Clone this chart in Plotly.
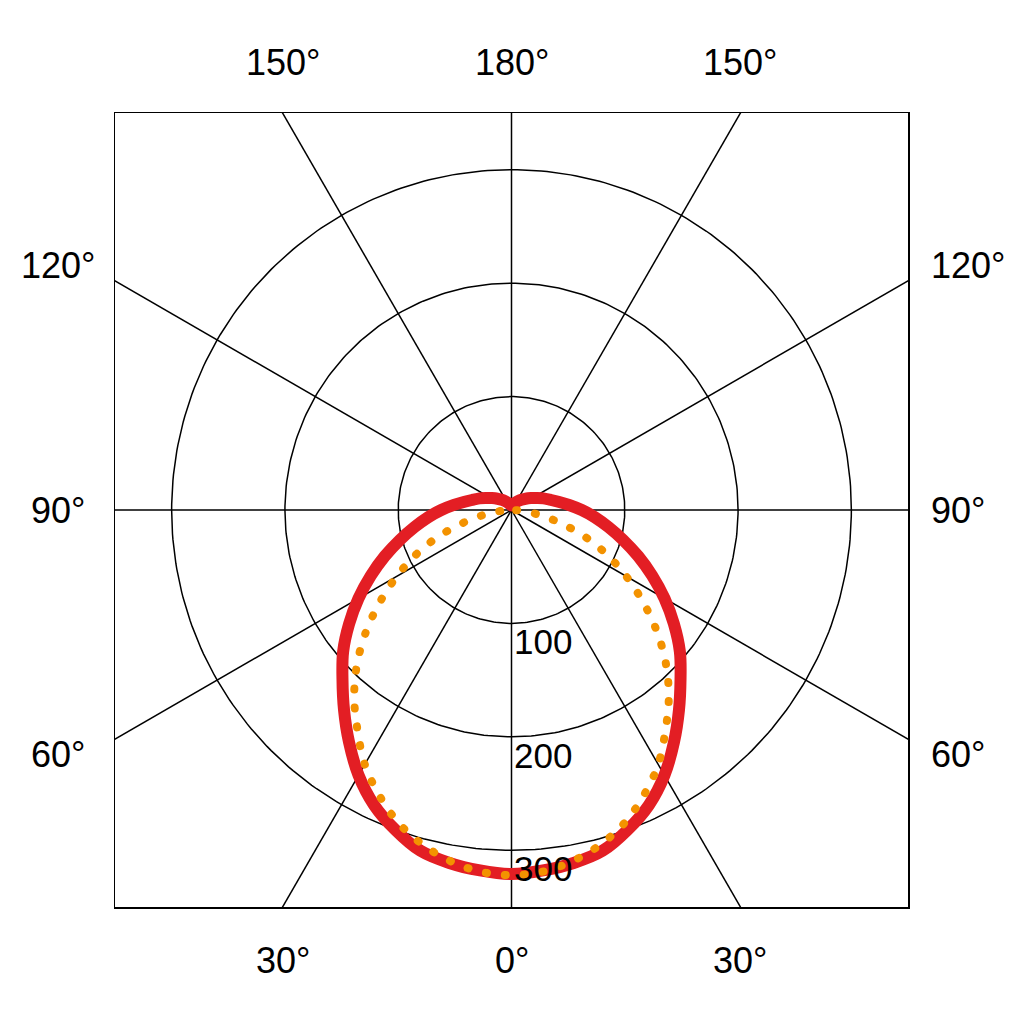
import numpy as np
import plotly.graph_objects as go

# --- data ---
red_angles = [0, 5, 10, 15, 20, 25, 30, 35, 40, 45, 50, 55, 60, 65, 70, 75, 80, 85, 90,
              95, 100, 105, 110, 115, 120, 125, 130, 140, 150, 160, 170, 180]
red_values = [321, 319, 316, 311, 300, 287, 270, 250, 230, 211, 194, 175, 156, 137, 119, 102, 87, 74, 62,
              51, 42, 35, 30, 25, 21, 18, 15, 11, 8, 6, 5, 4]

orange_angles = [0, 5, 10, 15, 20, 25, 30, 35, 40, 45, 50, 55, 60, 65, 70, 75, 80, 85, 90]
orange_values = [322, 320, 314, 305, 293, 277, 259, 237, 216, 193, 168, 142, 117, 93, 69, 45, 25, 10, 0]

grid_radii = [100, 200, 300]
grid_radius_labels = ["100", "200", "300"]
spoke_angles = [0, 30, 60, 90, 120, 150, 180, 210, 240, 270, 300, 330]

top_labels = ["150°", "180°", "150°"]
bottom_labels = ["30°", "0°", "30°"]
side_labels = ["120°", "90°", "60°"]

R = 350  # half range of axes (cd units)
FONT = "Liberation Sans, Arial, sans-serif"


def to_xy(angles, values, sign=1):
    a = np.radians(np.asarray(angles, dtype=float))
    v = np.asarray(values, dtype=float)
    return sign * v * np.sin(a), -v * np.cos(a)


def mirrored(angles, values):
    xr, yr = to_xy(angles, values, 1)
    xl, yl = to_xy(angles, values, -1)
    x = np.concatenate([xl[::-1], xr[1:]])
    y = np.concatenate([yl[::-1], yr[1:]])
    return x, y


fig = go.Figure()

# spokes
sx, sy = [], []
for a in spoke_angles:
    ex, ey = to_xy([a], [1000])
    sx += [0, ex[0], None]
    sy += [0, ey[0], None]
fig.add_trace(go.Scatter(x=sx, y=sy, mode="lines", line=dict(color="black", width=1.5),
                         hoverinfo="skip", showlegend=False))

# circles
t = np.linspace(0, 360, 361)
cx, cy = [], []
for r in grid_radii:
    x, y = to_xy(t, [r] * len(t))
    cx += list(x) + [None]
    cy += list(y) + [None]
fig.add_trace(go.Scatter(x=cx, y=cy, mode="lines", line=dict(color="black", width=1.5),
                         hoverinfo="skip", showlegend=False))

# red curve
rx, ry = mirrored(red_angles, red_values)
fig.add_trace(go.Scatter(x=rx, y=ry, mode="lines", line=dict(color="#E31E24", width=12, shape="spline"),
                         showlegend=False))

# orange dotted curve
ox, oy = mirrored(orange_angles, orange_values)
fig.add_trace(go.Scatter(x=ox, y=oy, mode="lines",
                         line=dict(color="#F39200", width=8, shape="spline", dash="1px,18px"),
                         showlegend=False))

annotations = []
# radial labels
for r, lab in zip(grid_radii, grid_radius_labels):
    annotations.append(dict(x=0, y=-r, xref="x", yref="y", text=lab, showarrow=False,
                            xanchor="left", yanchor="top", xshift=0, yshift=3,
                            font=dict(family=FONT, size=35, color="black")))

off = R * np.tan(np.radians(30))
xs = [-off, 0, off]
for xv, lab in zip(xs, top_labels):
    annotations.append(dict(x=xv, y=1.063, xref="x", yref="paper", text=lab, showarrow=False,
                            xanchor="center", yanchor="middle",
                            font=dict(family=FONT, size=36, color="black")))
for xv, lab in zip(xs, bottom_labels):
    annotations.append(dict(x=xv, y=-0.067, xref="x", yref="paper", text=lab, showarrow=False,
                            xanchor="center", yanchor="middle",
                            font=dict(family=FONT, size=36, color="black")))
ys = [off, 0, -off]
shifts = [15, 0, -15]
for yv, lab, sh in zip(ys, side_labels, shifts):
    annotations.append(dict(x=-0.0719, y=yv, xref="paper", yref="y", text=lab, showarrow=False,
                            xanchor="center", yanchor="middle", yshift=sh,
                            font=dict(family=FONT, size=36, color="black")))
    annotations.append(dict(x=1.0265, y=yv, xref="paper", yref="y", text=lab, showarrow=False,
                            xanchor="left", yanchor="middle", yshift=sh,
                            font=dict(family=FONT, size=36, color="black")))

axis_common = dict(range=[-R, R], showgrid=False, zeroline=False, showticklabels=False,
                   ticks="", showline=True, mirror=True, linecolor="black", linewidth=1.5,
                   fixedrange=True)

fig.update_layout(
    width=1024, height=1024,
    margin=dict(l=107, r=124, t=105, b=125),
    paper_bgcolor="white", plot_bgcolor="white",
    xaxis=axis_common,
    yaxis=axis_common,
    annotations=annotations,
    showlegend=False,
)

post = """
var gd = document.getElementById('{plot_id}');
function roundDots() {
  var traces = gd.querySelectorAll('.scatterlayer .trace');
  if (traces.length >= 4) {
    traces[3].querySelectorAll('path.js-line').forEach(function(p) {
      p.style.strokeLinecap = 'round';
    });
    traces[2].querySelectorAll('path.js-line').forEach(function(p) {
      p.style.strokeLinejoin = 'round';
    });
  }
}
roundDots();
setTimeout(roundDots, 50);
setTimeout(roundDots, 300);
"""

fig.write_html("out.html", post_script=post, config={"staticPlot": True})
